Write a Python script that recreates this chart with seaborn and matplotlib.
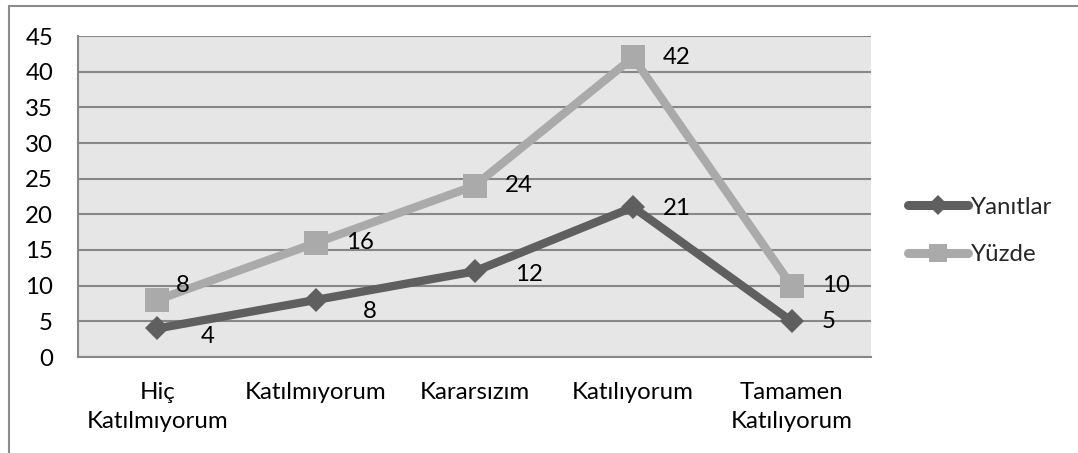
import matplotlib
matplotlib.use("Agg")
import matplotlib.pyplot as plt
import seaborn as sns
import pandas as pd
from matplotlib.lines import Line2D

categories = ["Hiç\nKatılmıyorum", "Katılmıyorum", "Kararsızım", "Katılıyorum", "Tamamen\nKatılıyorum"]
yanitlar = [4, 8, 12, 21, 5]
yuzde = [8, 16, 24, 42, 10]
series_names = ["Yanıtlar", "Yüzde"]
yticks = [0, 5, 10, 15, 20, 25, 30, 35, 40, 45]

# label offsets in pixels (dx right, dy down)
off_yan = [(43, 8), (47, 12), (41, 3), (30, 1), (30, 0)]
off_yuz = [(19, -14), (30, 0), (30, 0), (30, 0), (30, 0)]

sns.set_theme(style="white")
plt.rcParams['font.family'] = ['Lato', 'DejaVu Sans']

DARK = "#5f5f5f"
LIGHT = "#aaaaaa"
FS = 17.3

df = pd.DataFrame({
    "x": list(range(len(categories))) * 2,
    "value": yanitlar + yuzde,
    "series": [series_names[0]] * len(yanitlar) + [series_names[1]] * len(yuzde),
})

fig = plt.figure(figsize=(10.78, 4.53), dpi=100)
ax = fig.add_axes([78 / 1078, 1 - 357 / 453, (871 - 78) / 1078, (357 - 36) / 453])
ax.set_facecolor("#e6e6e6")

sns.lineplot(data=df, x="x", y="value", hue="series", style="series",
             palette={series_names[0]: DARK, series_names[1]: LIGHT},
             markers={series_names[0]: "D", series_names[1]: "s"},
             dashes=False, linewidth=6, markeredgewidth=0,
             markersize=12, legend=False, ax=ax, zorder=3)
for ln in ax.get_lines():
    if ln.get_marker() == "s":
        ln.set_markersize(17.5)
        ln.set_zorder(3)
    elif ln.get_marker() == "D":
        ln.set_markersize(12.5)
        ln.set_zorder(4)

ax.set_xlim(-0.5, len(categories) - 0.5)
ax.set_ylim(0, 45)
ax.set_yticks(yticks)
ax.set_xticks(range(len(categories)))
ax.set_xticklabels(categories, linespacing=1.45)
ax.tick_params(axis="y", length=0, pad=18, labelsize=FS, colors="black")
ax.tick_params(axis="x", length=0, pad=18, labelsize=FS, colors="black")
ax.set_xlabel("")
ax.set_ylabel("")
ax.yaxis.grid(True, color="#878787", linewidth=1.5)
ax.set_axisbelow(True)
for s in ["top", "right"]:
    ax.spines[s].set_visible(False)
for s in ["left", "bottom"]:
    ax.spines[s].set_color("#878787")
    ax.spines[s].set_linewidth(1.5)

for i, v in enumerate(yanitlar):
    dx, dy = off_yan[i]
    ax.annotate(str(v), (i, v), xytext=(dx * 0.72, -dy * 0.72), textcoords="offset points",
                ha="left", va="center", fontsize=FS, color="black", zorder=5)
for i, v in enumerate(yuzde):
    dx, dy = off_yuz[i]
    ax.annotate(str(v), (i, v), xytext=(dx * 0.72, -dy * 0.72), textcoords="offset points",
                ha="left", va="center", fontsize=FS, color="black", zorder=5)

handles = [
    Line2D([], [], color=DARK, linewidth=6.5, marker="D", markersize=10, markeredgewidth=0,
           solid_capstyle="round"),
    Line2D([], [], color=LIGHT, linewidth=6.5, marker="s", markersize=13, markeredgewidth=0,
           solid_capstyle="round"),
]
fig.legend(handles, series_names, loc="center left",
           bbox_to_anchor=(908 / 1078, 1 - 231 / 453), frameon=False,
           fontsize=FS, handlelength=2.5, handletextpad=0.1, labelspacing=1.1,
           borderaxespad=0, borderpad=0)

# outer frame lines (top and left)
fig.add_artist(Line2D([9 / 1078, 1], [1 - 6 / 453, 1 - 6 / 453], transform=fig.transFigure,
                      color="#8c8c8c", linewidth=1.5))
fig.add_artist(Line2D([9 / 1078, 9 / 1078], [0, 1 - 6 / 453], transform=fig.transFigure,
                      color="#8c8c8c", linewidth=1.5))

fig.savefig("out.png", dpi=100, facecolor="white")
